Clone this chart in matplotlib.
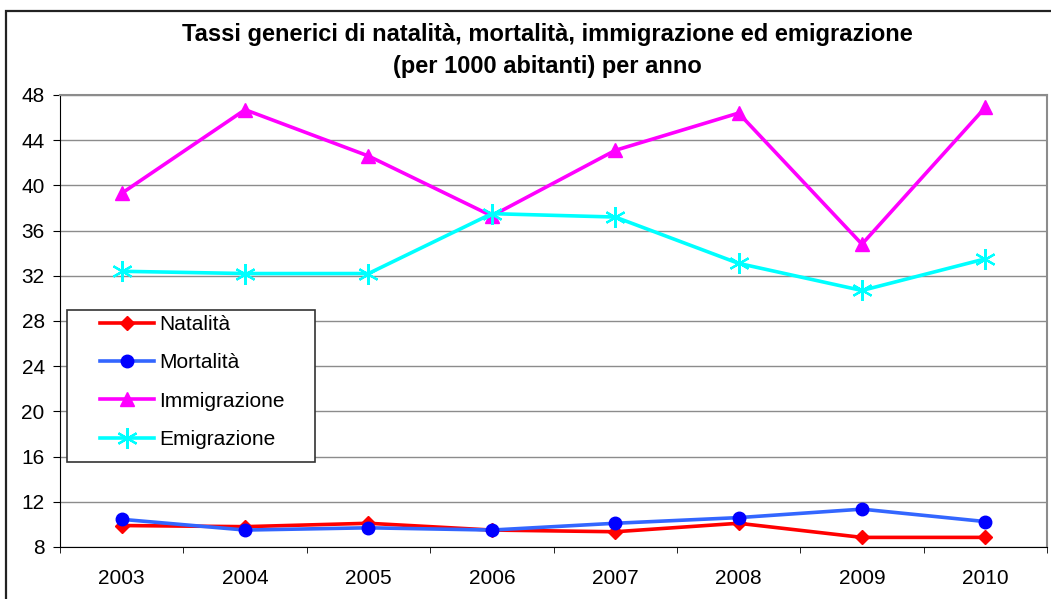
import numpy as np
import matplotlib.pyplot as plt
from matplotlib.patches import Rectangle

plt.rcParams['font.family'] = ['Liberation Sans', 'DejaVu Sans']

years = ['2003', '2004', '2005', '2006', '2007', '2008', '2009', '2010']
natalita = [9.9, 9.8, 10.1, 9.5, 9.35, 10.1, 8.85, 8.85]
mortalita = [10.45, 9.5, 9.7, 9.5, 10.1, 10.6, 11.35, 10.25]
immigrazione = [39.3, 46.7, 42.6, 37.3, 43.1, 46.4, 34.8, 46.9]
emigrazione = [32.4, 32.2, 32.2, 37.5, 37.2, 33.1, 30.7, 33.5]

W, H = 1051, 599
fig = plt.figure(figsize=(W / 100, H / 100), dpi=100)
ax = fig.add_axes([60 / W, 1 - 547 / H, 987 / W, 452 / H])

# outer frame of the chart (right and bottom edges fall outside the image)
fig.patches.append(Rectangle((6 / W, -0.01), 1.0, 1 - 11 / H + 0.01,
                             transform=fig.transFigure, fill=False,
                             edgecolor='#222222', linewidth=1.6))

x = np.arange(len(years))
ax.plot(x, natalita, color='#ff0000', lw=2.6, marker='D', ms=7, mfc='#ff0000',
        mec='#ff0000', label='Natalità', zorder=3)
ax.plot(x, mortalita, color='#3366ff', lw=2.6, marker='o', ms=9, mfc='#0000ff',
        mec='#0000ff', label='Mortalità', zorder=4)
ax.plot(x, immigrazione, color='#ff00ff', lw=2.6, marker='^', ms=10, mfc='#ff00ff',
        mec='#ff00ff', label='Immigrazione', zorder=3)
ax.plot(x, emigrazione, color='#00ffff', lw=2.6, marker=(6, 2, 0), ms=15, mfc='#00ffff',
        mec='#00ffff', mew=1.6, label='Emigrazione', zorder=3)

ax.set_xlim(-0.5, len(years) - 0.5)
ax.set_ylim(8, 48)
ax.set_yticks(np.arange(8, 49, 4))
ax.set_xticks(x)
ax.set_xticklabels(years)
ax.set_xticks(np.arange(-0.5, len(years)), minor=True)
ax.tick_params(axis='x', which='major', length=0, pad=16, labelsize=15)
ax.tick_params(axis='x', which='minor', length=4, direction='out', color='black')
ax.tick_params(axis='y', length=5, direction='out', pad=6, labelsize=15)

ax.grid(axis='y', color='#8c8c8c', lw=1)
ax.set_axisbelow(True)
for side in ['top', 'right']:
    ax.spines[side].set_color('#8c8c8c')
    ax.spines[side].set_linewidth(1.5)
ax.spines['left'].set_color('black')
ax.spines['bottom'].set_color('black')

fig.text(547 / W, 1 - 34 / H, 'Tassi generici di natalità, mortalità, immigrazione ed emigrazione',
         ha='center', va='center', fontsize=17, fontweight='bold')
fig.text(547 / W, 1 - 67 / H, '(per 1000 abitanti) per anno',
         ha='center', va='center', fontsize=17, fontweight='bold')

# legend box drawn separately so it can have wider side padding
ax.add_patch(Rectangle((7 / 987, (547 - 462) / 452), 248 / 987, 152 / 452,
                       transform=ax.transAxes, facecolor='white',
                       edgecolor='#333333', linewidth=1.2, zorder=5))
leg = ax.legend(loc='upper left', bbox_to_anchor=(40 / 987, (547 - 315) / 452),
                fontsize=15, frameon=False, handlelength=2.6,
                labelspacing=0.93, borderpad=0.0, borderaxespad=0.0, handletextpad=0.25)
leg.set_zorder(6)

fig.savefig('out.png', dpi=100)
